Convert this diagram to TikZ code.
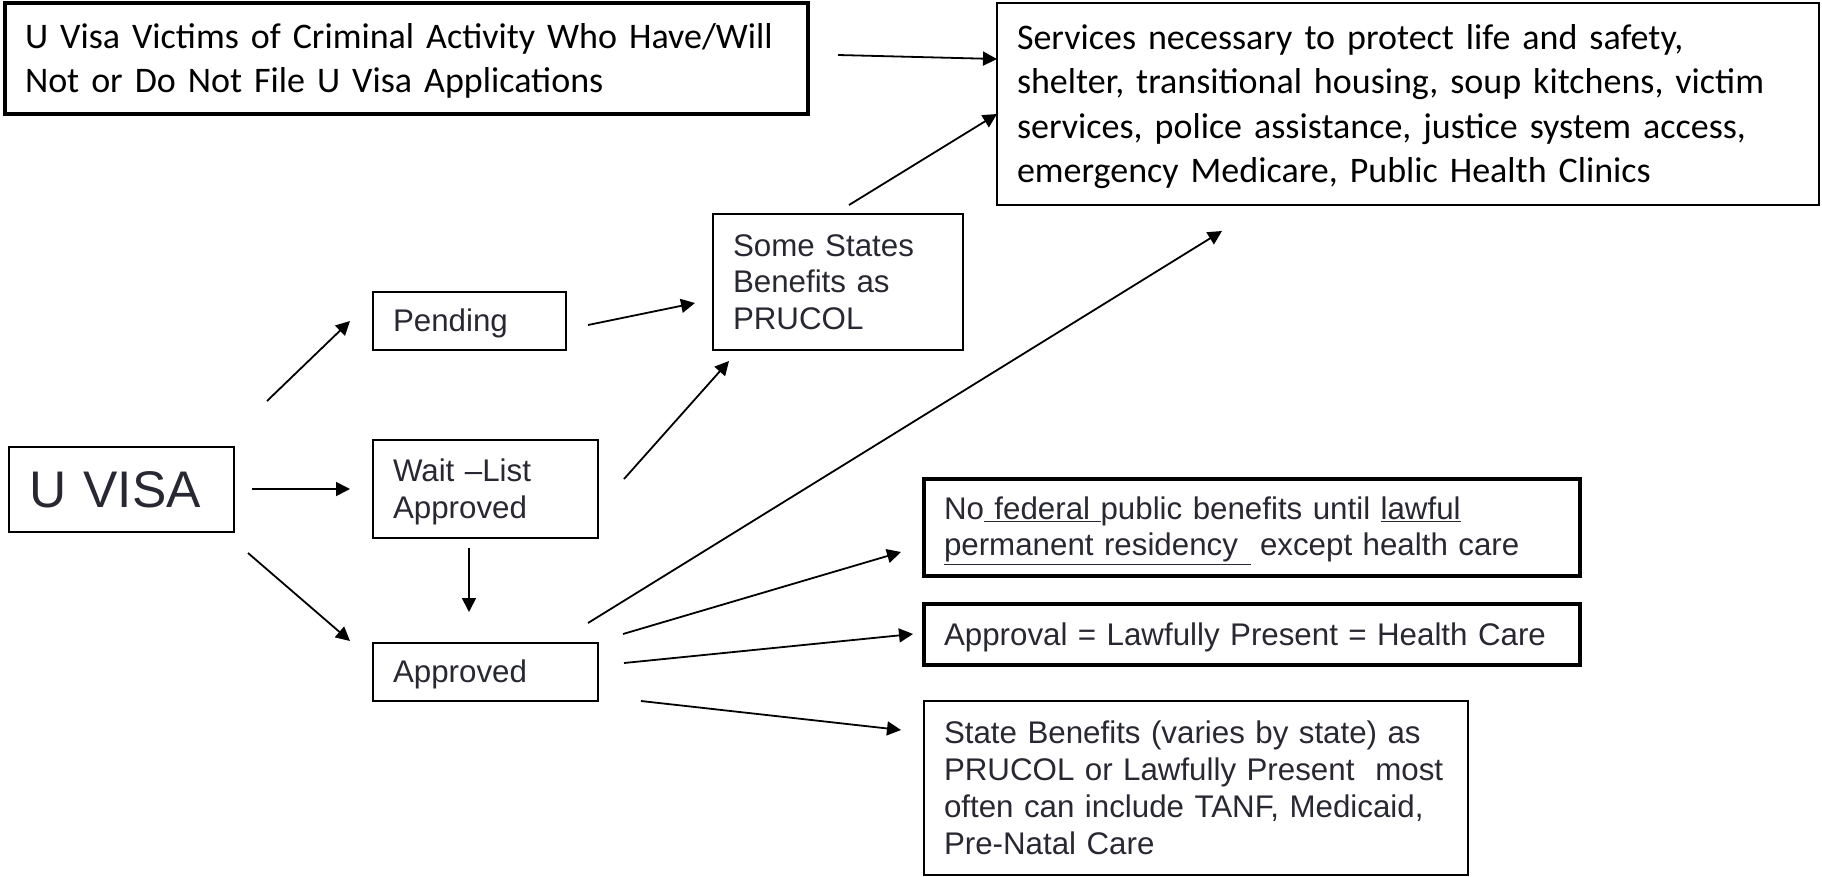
\documentclass[tikz,border=0pt]{standalone}
\usepackage{fontspec}
\setmainfont{Liberation Sans}
\newfontfamily\calib{Carlito}
\usetikzlibrary{arrows.meta}
\definecolor{txt}{RGB}{40,40,50}
\newcommand\lineA[1]{\mbox{\rule[-0.212em]{0pt}{1.117em}#1}}
\newcommand\lineC[1]{\mbox{\rule[-0.27em]{0pt}{1.22em}#1}}
\tikzset{
  box/.style={draw=black, line width=1.8pt, inner xsep=20pt, inner ysep=0pt, align=left, text=txt, font=\fontsize{31.3}{36.8}\selectfont},
  thickbox/.style={box, line width=4pt},
  calbox/.style={text=black, font=\calib\fontsize{36}{44.5}\selectfont},
  arr/.style={line width=1.8pt, -{Triangle[length=14pt,width=14pt]}}
}
\begin{document}
\begin{tikzpicture}[x=1pt,y=-1pt]
\useasboundingbox (0,0) rectangle (1822,876);
% boxes
\node[thickbox, calbox, text width=763pt, minimum height=111pt] (victims) at (406.5,58.5)
  {\lineC{U Visa Victims of Criminal Activity Who Have/Will}\\\lineC{Not or Do Not File U Visa Applications}};
\node[box, calbox, text width=782pt, minimum height=202pt] (services) at (1408,104)
  {\lineC{Services necessary to protect life and safety,}\\\lineC{shelter, transitional housing, soup kitchens, victim}\\\lineC{services, police assistance, justice system access,}\\\lineC{emergency Medicare, Public Health Clinics}};
\node[box, text width=210pt, minimum height=136pt] (somestates) at (838,282)
  {\lineA{Some States}\\\lineA{Benefits as}\\\lineA{PRUCOL}};
\node[box, text width=153pt, minimum height=58pt] (pending) at (469.5,321) {\lineA{Pending}};
\node[box, text width=185pt, minimum height=85pt, font=\fontsize{51.5}{58}\selectfont] (uvisa) at (121.5,489.5) {\lineA{U VISA}};
\node[box, text width=185pt, minimum height=98pt] (waitlist) at (485.5,489) {\lineA{Wait \textendash List}\\\lineA{Approved}};
\node[box, text width=185pt, minimum height=58pt] (approved) at (485.5,672) {\lineA{Approved}};
\node[thickbox, text width=616pt, minimum height=97pt] (nofed) at (1252,527.5)
  {\lineA{No\underline{ federal }public benefits until \underline{lawful}}\\\lineA{\underline{permanent residency\hspace{13pt}}\hspace{9pt}except health care}};
\node[thickbox, text width=616pt, minimum height=61pt] (approval) at (1252,634.5)
  {\lineA{Approval = Lawfully Present = Health Care}};
\node[box, text width=504pt, minimum height=174pt] (statebf) at (1196,788)
  {\lineA{State Benefits (varies by state) as}\\\lineA{PRUCOL or Lawfully Present\ \ most}\\\lineA{often can include TANF, Medicaid,}\\\lineA{Pre-Natal Care}};
% connector end points
\coordinate (v1) at (838,55);   \coordinate (s1) at (997,59);
\coordinate (ss1) at (849,205); \coordinate (s2) at (997,114);
\coordinate (p1) at (588,325);  \coordinate (ss2) at (695,303);
\coordinate (u1) at (267,401);  \coordinate (p2) at (350,321);
\coordinate (u2) at (252,489);  \coordinate (w1) at (350,489);
\coordinate (u3) at (248,553);  \coordinate (a1) at (350,641);
\coordinate (w2) at (624,479);  \coordinate (ss3) at (729,361);
\coordinate (w3) at (469,548);  \coordinate (a2) at (469,612);
\coordinate (a3) at (588,623);  \coordinate (s3) at (1222,231);
\coordinate (a4) at (623,634);  \coordinate (n1) at (901,552);
\coordinate (a5) at (624,663);  \coordinate (ap1) at (913,634);
\coordinate (a6) at (641,701);  \coordinate (sb1) at (901,730);
% connectors
\draw[arr] (v1) -- (s1);
\draw[arr] (ss1) -- (s2);
\draw[arr] (p1) -- (ss2);
\draw[arr] (u1) -- (p2);
\draw[arr] (u2) -- (w1);
\draw[arr] (u3) -- (a1);
\draw[arr] (w2) -- (ss3);
\draw[arr] (w3) -- (a2);
\draw[arr] (a3) -- (s3);
\draw[arr] (a4) -- (n1);
\draw[arr] (a5) -- (ap1);
\draw[arr] (a6) -- (sb1);
\end{tikzpicture}
\end{document}
